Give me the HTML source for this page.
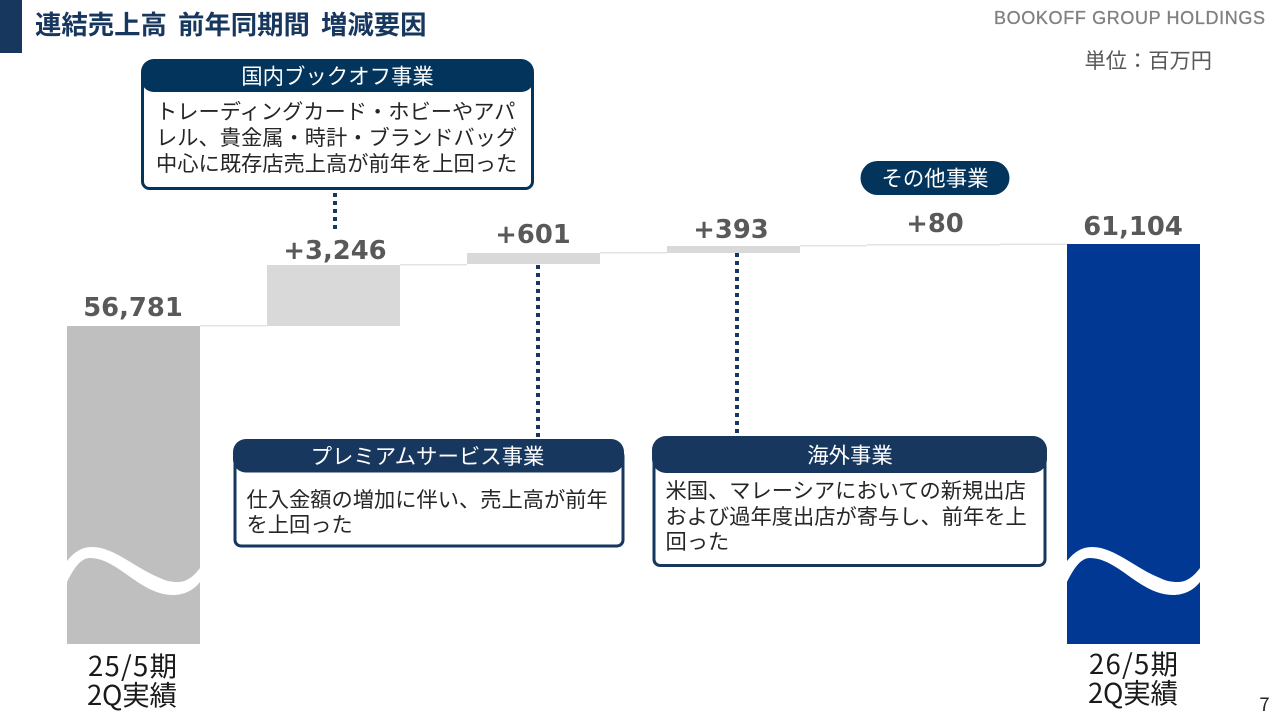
<!DOCTYPE html>
<html lang="ja"><head><meta charset="utf-8"><title>連結売上高 前年同期間 増減要因</title>
<style>
html,body{margin:0;padding:0;background:#fff;width:1280px;height:720px;overflow:hidden}
svg{display:block}
.j{font-family:"Liberation Sans","Noto Sans CJK JP",sans-serif}
.n{font-family:"DejaVu Sans","Liberation Sans",sans-serif;font-weight:700;fill:#595959;font-size:25.8px;text-anchor:middle}
.b{font-size:21.25px;fill:#262626}
.h{font-size:21.4px;fill:#fff;text-anchor:middle}
.c{font-family:"Noto Sans CJK JP",sans-serif;font-size:27.5px;fill:#1a1a1a}
</style></head><body>
<svg width="1280" height="720" viewBox="0 0 1280 720" xmlns="http://www.w3.org/2000/svg">
<rect x="0" y="0" width="22" height="53" fill="#17375e"/>
<text class="j" x="35" y="34" font-size="26.4" font-weight="700" fill="#17375e" word-spacing="3.700">連結売上高 前年同期間 増減要因</text>
<text x="994" y="24" font-family="Liberation Sans,sans-serif" font-size="18" fill="#808080" stroke="#808080" stroke-width=".3" textLength="271" lengthAdjust="spacing">BOOKOFF GROUP HOLDINGS</text>
<text class="j" x="1084.500" y="68" font-size="21.25" fill="#595959">単位：百万円</text>

<!-- connectors -->
<g fill="#e3e3e3">
<rect x="200" y="325" width="67" height="1.5"/>
<rect x="400" y="264" width="67" height="1.5"/>
<rect x="600" y="252" width="67" height="1.5"/>
<rect x="800" y="245" width="67" height="1.5"/>
<rect x="867" y="244" width="133" height="1.5"/>
<rect x="1000" y="243.500" width="67" height="1.5"/>
</g>
<!-- bars -->
<rect x="67" y="326" width="133" height="318" fill="#bfbfbf"/>
<rect x="267" y="265" width="133" height="61" fill="#d9d9d9"/>
<rect x="467" y="253" width="133" height="11" fill="#d9d9d9"/>
<rect x="667" y="246" width="133" height="7" fill="#d9d9d9"/>
<rect x="1067" y="244" width="133" height="400" fill="#003893"/>
<!-- waves -->
<path d="M67 561 C74 552 82 547 92 547 C104 547 115 553 127 560 C140 568 150 574 160 578 C166 581 171 582 178 582 C187 582 194 576 200 568 L200 582 C193 591 183 595 173 595 C140 595 118 558 90 558 C80 558 73 570 67 582 Z" fill="#fff"/>
<path d="M1067 561 C1074 552 1082 547 1092 547 C1104 547 1115 553 1127 560 C1140 568 1150 574 1160 578 C1166 581 1171 582 1178 582 C1187 582 1194 576 1200 568 L1200 582 C1193 591 1183 595 1173 595 C1140 595 1118 558 1090 558 C1080 558 1073 570 1067 582 Z" fill="#fff"/>

<!-- dotted -->
<g stroke="#17375e" stroke-width="4" stroke-dasharray="4 4" fill="none">
<line x1="335" y1="193" x2="335" y2="230"/>
<line x1="538" y1="265" x2="538" y2="437"/>
<line x1="737" y1="253" x2="737" y2="433"/>
</g>

<!-- values -->
<text class="n" x="133" y="316">56,781</text>
<text class="n" x="335" y="259">+3,246</text>
<text class="n" x="533" y="243">+601</text>
<text class="n" x="731" y="238">+393</text>
<text class="n" x="935" y="232">+80</text>
<text class="n" x="1133" y="235">61,104</text>

<!-- pill -->
<rect x="860.500" y="161" width="149" height="34" rx="17" fill="#03345c"/>
<text class="j h" x="935" y="186">その他事業</text>

<!-- box 1 -->
<rect x="142.500" y="70" width="390" height="118.500" rx="7" fill="#fff" stroke="#03345c" stroke-width="3"/>
<rect x="141" y="59" width="393" height="33" rx="13" fill="#03345c"/>
<text class="j h" x="337.500" y="84">国内ブックオフ事業</text>
<text class="j b" x="156" y="119">トレーディングカード・ホビーやアパ</text>
<text class="j b" x="156" y="145">レル、貴金属・時計・ブランドバッグ</text>
<text class="j b" x="156" y="171">中心に既存店売上高が前年を上回った</text>

<!-- box 2 -->
<rect x="235" y="450" width="388" height="96" rx="6" fill="#fff" stroke="#17375e" stroke-width="3"/>
<rect x="233" y="439" width="391" height="33.500" rx="13" fill="#17375e"/>
<text class="j h" x="427.500" y="464">プレミアムサービス事業</text>
<text class="j b" x="246.500" y="507">仕入金額の増加に伴い、売上高が前年</text>
<text class="j b" x="246.500" y="532">を上回った</text>

<!-- box 3 -->
<rect x="654" y="450" width="391" height="115.500" rx="6" fill="#fff" stroke="#17375e" stroke-width="3"/>
<rect x="652" y="436" width="395" height="37" rx="14" fill="#17375e"/>
<text class="j h" x="850" y="463">海外事業</text>
<text class="j b" x="665.500" y="498">米国、マレーシアにおいての新規出店</text>
<text class="j b" x="665.500" y="524">および過年度出店が寄与し、前年を上</text>
<text class="j b" x="665.500" y="549">回った</text>

<!-- axis labels -->
<text class="c" x="88" y="676" textLength="89" lengthAdjust="spacing">25/5期</text>
<text class="c" x="87" y="705" textLength="90" lengthAdjust="spacing">2Q実績</text>
<text class="c" x="1089" y="674" textLength="89" lengthAdjust="spacing">26/5期</text>
<text class="c" x="1088" y="703" textLength="90" lengthAdjust="spacing">2Q実績</text>
<text x="1264.500" y="711" font-family="Noto Sans CJK JP,sans-serif" font-size="18.5" fill="#262626" text-anchor="middle">7</text>
</svg>
</body></html>
